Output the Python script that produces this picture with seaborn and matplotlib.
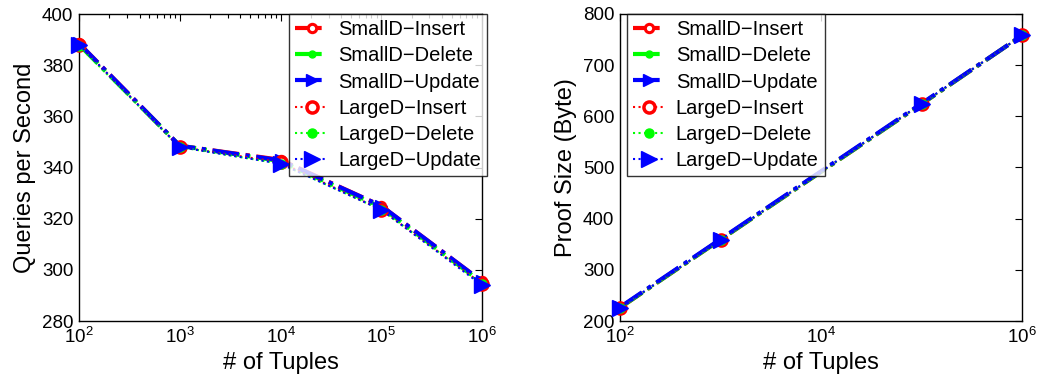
import numpy as np
import pandas as pd
import seaborn as sns
import matplotlib
matplotlib.use("Agg")
import matplotlib.pyplot as plt
from matplotlib.ticker import LogLocator, NullLocator, FixedLocator

sns.set_style("white")
plt.rcParams['font.family'] = ['Liberation Sans', 'DejaVu Sans']
plt.rcParams['mathtext.fontset'] = 'custom'
plt.rcParams['mathtext.rm'] = 'Liberation Sans'
for k in ['text.color', 'axes.labelcolor', 'xtick.color', 'ytick.color']:
    plt.rcParams[k] = 'black'

series_names = ["SmallD\u2212Insert", "SmallD\u2212Delete", "SmallD\u2212Update",
                "LargeD\u2212Insert", "LargeD\u2212Delete", "LargeD\u2212Update"]

# Left panel: Queries per Second
tuples_left = [1e2, 1e3, 1e4, 1e5, 1e6]
qps_small_insert = [388.5, 348.5, 343.0, 325.0, 295.5]
qps_small_delete = [388.0, 348.5, 342.5, 324.5, 295.0]
qps_small_update = [388.5, 348.5, 342.8, 325.0, 295.5]
qps_large_insert = [388.0, 348.0, 342.0, 323.5, 294.5]
qps_large_delete = [387.5, 348.0, 341.5, 323.5, 294.5]
qps_large_update = [388.0, 348.0, 341.5, 323.5, 294.0]

# Right panel: Proof Size (Byte)
tuples_right = [1e2, 1e3, 1e5, 1e6]
proof_small_insert = [226, 359, 624, 758]
proof_small_delete = [226, 359, 624, 758]
proof_small_update = [227, 360, 625, 758]
proof_large_insert = [225, 358, 624, 758]
proof_large_delete = [225, 358, 624, 758]
proof_large_update = [226, 359, 625, 758]

qps = dict(zip(series_names, [qps_small_insert, qps_small_delete, qps_small_update,
                              qps_large_insert, qps_large_delete, qps_large_update]))
proof = dict(zip(series_names, [proof_small_insert, proof_small_delete, proof_small_update,
                                proof_large_insert, proof_large_delete, proof_large_update]))

style_list = [
    dict(color="#ff0000", ls="-.", lw=3.0, marker="o", ms=6, mfc="white", mew=2.2),
    dict(color="#00ff00", ls="-.", lw=3.0, marker=".", ms=10, mfc="#00ff00", mew=1),
    dict(color="#0000ff", ls="-.", lw=3.0, marker=">", ms=9, mfc="#0000ff", mew=1),
    dict(color="#ff0000", ls=":", lw=1.5, marker="o", ms=8, mfc="white", mew=2.5),
    dict(color="#00ff00", ls=":", lw=1.5, marker=".", ms=13, mfc="#00ff00", mew=1),
    dict(color="#0000ff", ls=":", lw=1.5, marker=">", ms=11, mfc="#0000ff", mew=1),
]
styles = dict(zip(series_names, style_list))

rows = []
for name in series_names:
    for x, y in zip(tuples_left, qps[name]):
        rows.append(dict(panel="qps", series=name, tuples=x, value=y))
    for x, y in zip(tuples_right, proof[name]):
        rows.append(dict(panel="proof", series=name, tuples=x, value=y))
df = pd.DataFrame(rows)

fig = plt.figure(figsize=(10.41, 3.79), dpi=100)
ax1 = fig.add_axes([79/1041, 1 - 321/379, 403/1041, 307/379])
ax2 = fig.add_axes([620/1041, 1 - 321/379, 402/1041, 307/379])

for ax, panel in [(ax1, "qps"), (ax2, "proof")]:
    sub = df[df.panel == panel]
    for name in series_names:
        st = styles[name]
        d = sub[sub.series == name]
        sns.lineplot(data=d, x="tuples", y="value", ax=ax, label=name,
                     color=st["color"], linestyle=st["ls"], linewidth=st["lw"],
                     marker=st["marker"], markersize=st["ms"],
                     markerfacecolor=st["mfc"], markeredgecolor=st["color"],
                     markeredgewidth=st["mew"], clip_on=False, zorder=3)
    ax.set_xscale("log")
    ax.set_xlim(1e2, 1e6)
    ax.set_xlabel("# of Tuples", fontsize=17, labelpad=4)
    for sp in ax.spines.values():
        sp.set_linewidth(1.0)
        sp.set_color("black")
    ax.tick_params(direction="in", which="both", top=True, right=True,
                   labelsize=13.5, length=5, width=0.8, pad=4)
    ax.tick_params(which="minor", length=3)

ax1.set_ylim(280, 400)
ax1.set_yticks(np.arange(280, 401, 20))
ax1.set_ylabel("Queries per Second", fontsize=17, labelpad=4)
ax1.xaxis.set_major_locator(FixedLocator(tuples_left))
ax1.xaxis.set_minor_locator(LogLocator(base=10, subs=np.arange(2, 10)))

ax2.set_ylim(200, 800)
ax2.set_yticks(np.arange(200, 801, 100))
ax2.set_ylabel("Proof Size (Byte)", fontsize=17, labelpad=4)
ax2.xaxis.set_major_locator(FixedLocator([1e2, 1e4, 1e6]))
ax2.xaxis.set_minor_locator(NullLocator())

leg_kw = dict(fontsize=14.5, frameon=True, fancybox=False, edgecolor="black",
              handlelength=1.65, handletextpad=0.48, labelspacing=0.36,
              borderpad=0.3, borderaxespad=0.0)
l1 = ax1.legend(loc="upper right", bbox_to_anchor=(1.012, 1.0), **leg_kw)
l2 = ax2.legend(loc="upper left", bbox_to_anchor=(0.017, 1.0), **leg_kw)
for l in (l1, l2):
    l.get_frame().set_linewidth(1.0)

fig.savefig("out.png", dpi=100, facecolor="white")
